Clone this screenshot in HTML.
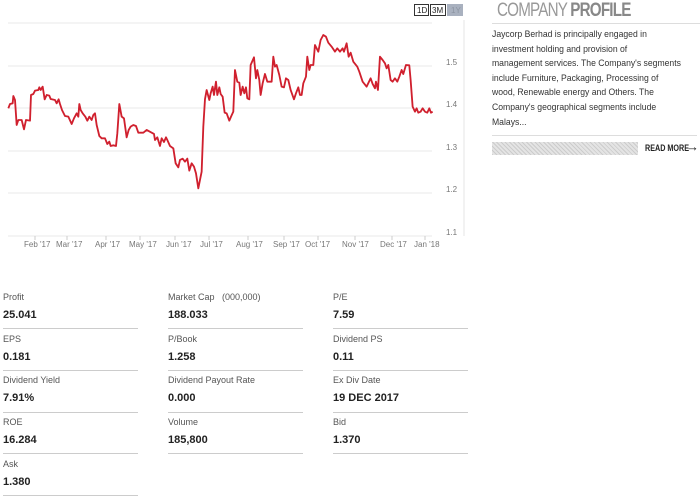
<!DOCTYPE html>
<html><head><meta charset="utf-8"><style>
body{margin:0;width:700px;height:498px;background:#fff;font-family:"Liberation Sans",sans-serif;position:relative;overflow:hidden}
.a{position:absolute}
.lbl{font-size:9px;color:#555}
.val{font-size:11px;font-weight:bold;color:#222}
.ln{height:1px;background:#ccc;width:135px}
.pt{font-size:9.4px;color:#333;line-height:14.6px;white-space:nowrap}
</style></head><body>
<svg class="a" style="left:0;top:0" width="470" height="260">
<line x1="464" y1="20" x2="464" y2="236" stroke="#e6e6e6"/>
<g stroke="#eaeaea" stroke-width="1">
<line x1="8" y1="23" x2="432" y2="23"/><line x1="8" y1="66" x2="432" y2="66"/><line x1="8" y1="108" x2="432" y2="108"/><line x1="8" y1="151" x2="432" y2="151"/><line x1="8" y1="193" x2="432" y2="193"/><line x1="8" y1="236" x2="432" y2="236"/>
</g>
<g font-size="8" fill="#777" font-family="Liberation Sans">
<text x="446" y="65">1.5</text><text x="446" y="107">1.4</text><text x="446" y="150">1.3</text><text x="446" y="192">1.2</text><text x="446" y="235">1.1</text>
<text x="24" y="247">Feb '17</text><text x="56" y="247">Mar '17</text><text x="95" y="247">Apr '17</text><text x="129" y="247">May '17</text><text x="166" y="247">Jun '17</text><text x="200" y="247">Jul '17</text><text x="236" y="247">Aug '17</text><text x="273" y="247">Sep '17</text><text x="305" y="247">Oct '17</text><text x="342" y="247">Nov '17</text><text x="380" y="247">Dec '17</text><text x="414" y="247">Jan '18</text>
</g>
<g stroke="#ccc"><line x1="35" y1="236" x2="35" y2="240"/><line x1="67" y1="236" x2="67" y2="240"/><line x1="106" y1="236" x2="106" y2="240"/><line x1="140" y1="236" x2="140" y2="240"/><line x1="175" y1="236" x2="175" y2="240"/><line x1="209" y1="236" x2="209" y2="240"/><line x1="248" y1="236" x2="248" y2="240"/><line x1="284" y1="236" x2="284" y2="240"/><line x1="318" y1="236" x2="318" y2="240"/><line x1="355" y1="236" x2="355" y2="240"/><line x1="392" y1="236" x2="392" y2="240"/><line x1="425" y1="236" x2="425" y2="240"/></g>
<g transform="scale(0.3333)"><polyline fill="none" stroke="#d0202e" stroke-width="5.5" stroke-linejoin="round" points="25,325 30,312 38,310 40,288 45,300 50,375 55,360 65,360 72,388 78,360 90,362 93,285 100,282 105,272 115,270 118,262 122,270 128,260 134,298 140,285 148,287 152,297 165,300 170,310 176,298 180,312 186,330 195,348 205,350 215,372 222,355 230,340 235,350 238,312 242,330 248,340 256,350 262,362 268,350 275,360 280,345 285,340 290,375 298,408 305,415 315,415 322,432 328,425 332,438 340,436 348,438 352,400 358,312 365,350 372,355 380,412 386,390 392,380 400,375 408,378 415,398 430,398 440,390 462,402 465,420 472,412 480,438 485,415 492,426 498,412 502,420 510,438 520,445 527,490 535,502 540,480 548,476 555,485 562,476 568,512 575,490 582,500 588,520 595,565 600,540 605,515 610,380 615,298 620,270 628,300 632,280 638,260 642,285 648,245 652,285 658,262 662,282 668,290 674,338 680,340 688,362 694,348 700,335 705,210 712,245 718,248 722,285 728,260 733,280 738,262 742,295 748,298 752,195 762,172 768,235 772,210 778,240 782,285 788,250 795,222 802,245 815,245 820,170 825,200 830,195 838,225 845,260 852,262 858,235 865,240 872,270 882,298 888,280 895,262 900,285 905,285 910,250 918,230 922,170 928,210 932,195 940,195 945,135 955,155 962,120 970,105 978,110 985,128 995,140 1005,155 1012,145 1020,155 1028,145 1032,155 1040,130 1046,170 1052,158 1060,185 1072,200 1078,215 1088,245 1100,260 1112,235 1118,252 1125,265 1128,245 1134,270 1140,170 1148,180 1155,190 1160,205 1165,195 1172,240 1178,245 1185,235 1192,245 1198,230 1205,210 1210,222 1218,195 1228,196 1232,240 1238,320 1245,335 1250,325 1255,338 1262,335 1268,325 1275,335 1282,338 1288,325 1293,338 1298,335"/></g>
<g font-size="8" font-family="Liberation Sans">
<rect x="414.5" y="4.5" width="14" height="11" fill="#fff" stroke="#333"/><text x="417" y="13" fill="#222">1D</text>
<rect x="430.5" y="4.5" width="15" height="11" fill="#fff" stroke="#333"/><text x="432" y="13" fill="#222">3M</text>
<rect x="447" y="4" width="16" height="12" fill="#a9b1bf"/><text x="451" y="13" fill="#8c94a2">1Y</text>
</g>
</svg>
<div class="a" style="left:497px;top:0;font-size:19px;color:#999;letter-spacing:-1px;transform:scaleX(0.8);transform-origin:left">COMPANY <b style="color:#888">PROFILE</b></div>
<div class="a" style="left:492px;top:23px;width:208px;height:1px;background:#ddd"></div>
<div class="a pt" style="left:492px;top:27px;transform:scaleX(0.92);transform-origin:left">Jaycorp Berhad is principally engaged in<br>investment holding and provision of<br>management services. The Company's segments<br>include Furniture, Packaging, Processing of<br>wood, Renewable energy and Others. The<br>Company's geographical segments include<br>Malays...</div>
<div class="a" style="left:492px;top:135px;width:205px;height:1px;background:#ddd"></div>
<div class="a" style="left:492px;top:142px;width:146px;height:13px;background:repeating-linear-gradient(45deg,#ccc 0 1px,#e4e4e4 1px 3px)"></div>
<div class="a" style="left:645px;top:143px;font-size:9px;font-weight:bold;color:#222;transform:scaleX(0.8);transform-origin:left">READ MORE</div>
<div class="a" style="left:686px;top:139px;font-size:13px;color:#222">→</div>

<div class="a lbl" style="left:3px;top:292px">Profit</div><div class="a val" style="left:3px;top:309px">25.041</div><div class="a ln" style="left:3px;top:328px"></div>
<div class="a lbl" style="left:3px;top:334px">EPS</div><div class="a val" style="left:3px;top:351px">0.181</div><div class="a ln" style="left:3px;top:370px"></div>
<div class="a lbl" style="left:3px;top:375px">Dividend Yield</div><div class="a val" style="left:3px;top:392px">7.91%</div><div class="a ln" style="left:3px;top:412px"></div>
<div class="a lbl" style="left:3px;top:417px">ROE</div><div class="a val" style="left:3px;top:434px">16.284</div><div class="a ln" style="left:3px;top:453px"></div>
<div class="a lbl" style="left:3px;top:459px">Ask</div><div class="a val" style="left:3px;top:476px">1.380</div><div class="a ln" style="left:3px;top:495px"></div>

<div class="a lbl" style="left:168px;top:292px">Market Cap &nbsp;&nbsp;(000,000)</div><div class="a val" style="left:168px;top:309px">188.033</div><div class="a ln" style="left:168px;top:328px"></div>
<div class="a lbl" style="left:168px;top:334px">P/Book</div><div class="a val" style="left:168px;top:351px">1.258</div><div class="a ln" style="left:168px;top:370px"></div>
<div class="a lbl" style="left:168px;top:375px">Dividend Payout Rate</div><div class="a val" style="left:168px;top:392px">0.000</div><div class="a ln" style="left:168px;top:412px"></div>
<div class="a lbl" style="left:168px;top:417px">Volume</div><div class="a val" style="left:168px;top:434px">185,800</div><div class="a ln" style="left:168px;top:453px"></div>

<div class="a lbl" style="left:333px;top:292px">P/E</div><div class="a val" style="left:333px;top:309px">7.59</div><div class="a ln" style="left:333px;top:328px"></div>
<div class="a lbl" style="left:333px;top:334px">Dividend PS</div><div class="a val" style="left:333px;top:351px">0.11</div><div class="a ln" style="left:333px;top:370px"></div>
<div class="a lbl" style="left:333px;top:375px">Ex Div Date</div><div class="a val" style="left:333px;top:392px">19 DEC 2017</div><div class="a ln" style="left:333px;top:412px"></div>
<div class="a lbl" style="left:333px;top:417px">Bid</div><div class="a val" style="left:333px;top:434px">1.370</div><div class="a ln" style="left:333px;top:453px"></div>
</body></html>
